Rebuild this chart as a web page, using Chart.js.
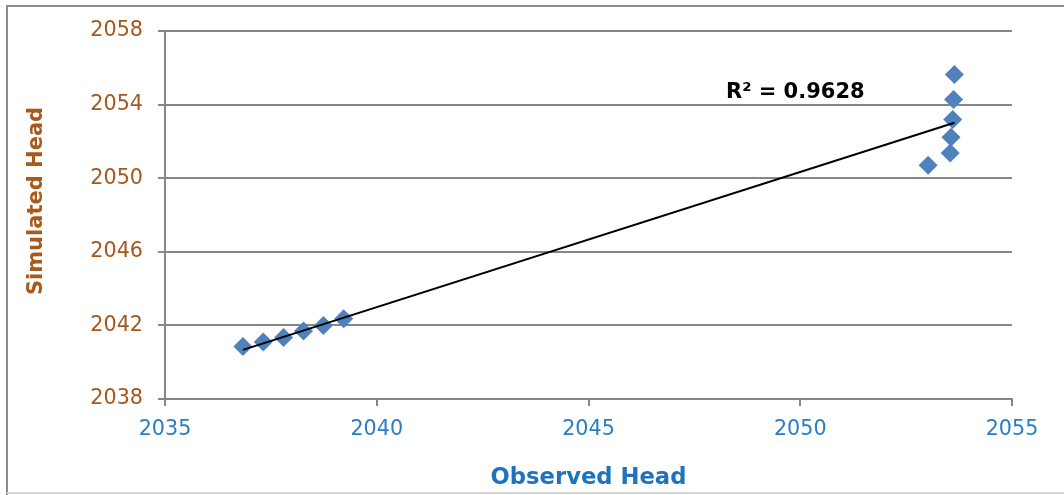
<!DOCTYPE html>
<html>
<head>
<meta charset="utf-8">
<script src="https://cdn.jsdelivr.net/npm/chart.js@4/dist/chart.umd.min.js"></script>
<style>
  html, body { margin: 0; padding: 0; background: #fff; }
  #wrap { position: relative; width: 1064px; height: 495px; }
</style>
</head>
<body>
<div id="wrap"><canvas id="c" width="1064" height="495"></canvas></div>
<script>
// Observed vs simulated heads at the monitoring wells
const observedHead  = [2036.84, 2037.32, 2037.80, 2038.27, 2038.74, 2039.22,
                       2053.02, 2053.54, 2053.56, 2053.60, 2053.62, 2053.64];
const simulatedHead = [2040.85, 2041.10, 2041.34, 2041.70, 2041.99, 2042.36,
                       2050.70, 2051.37, 2052.22, 2053.19, 2054.28, 2055.64];
const xTicks = [2035, 2040, 2045, 2050, 2055];
const yTicks = [2038, 2042, 2046, 2050, 2054, 2058];
const xTitle = 'Observed Head';
const yTitle = 'Simulated Head';
const rSquaredLabel = 'R² = 0.9628';

const points = observedHead.map((x, i) => ({ x, y: simulatedHead[i] }));

// Least-squares linear trendline spanning the observed range
const n = observedHead.length;
const mx = observedHead.reduce((a, b) => a + b, 0) / n;
const my = simulatedHead.reduce((a, b) => a + b, 0) / n;
let sxy = 0, sxx = 0;
for (let i = 0; i < n; i++) {
  sxy += (observedHead[i] - mx) * (simulatedHead[i] - my);
  sxx += (observedHead[i] - mx) ** 2;
}
const slope = sxy / sxx;
const intercept = my - slope * mx;
const xMin = Math.min(...observedHead), xMax = Math.max(...observedHead);
const trend = [
  { x: xMin, y: intercept + slope * xMin },
  { x: xMax, y: intercept + slope * xMax }
];

const BROWN = '#A3581E';
const BLUE = '#2A7DC4';
const GRID = '#878787';
const FONT = '"DejaVu Sans", sans-serif';

const frame = {
  id: 'frame',
  beforeDraw(chart) {
    const ctx = chart.ctx;
    ctx.save();
    ctx.fillStyle = '#fff';
    ctx.fillRect(0, 0, chart.width, chart.height);
    ctx.strokeStyle = '#8c8c8c';
    ctx.lineWidth = 2;
    ctx.beginPath();
    ctx.moveTo(1064, 6);
    ctx.lineTo(7, 6);
    ctx.lineTo(7, 495);
    ctx.stroke();
    ctx.strokeStyle = '#d4d4d4';
    ctx.beginPath();
    ctx.moveTo(7, 493);
    ctx.lineTo(1064, 493);
    ctx.stroke();
    ctx.restore();
  },
  afterDraw(chart) {
    const ctx = chart.ctx;
    ctx.save();
    // vertical axis title
    ctx.translate(37, 201);
    ctx.rotate(-Math.PI / 2);
    ctx.font = 'bold 21px ' + FONT;
    ctx.fillStyle = '#A8591C';
    ctx.textAlign = 'center';
    ctx.textBaseline = 'middle';
    ctx.fillText(yTitle, 0, 0);
    ctx.restore();
  },
  afterDatasetsDraw(chart) {
    const ctx = chart.ctx;
    ctx.save();
    ctx.font = 'bold 21px ' + FONT;
    ctx.fillStyle = '#000';
    ctx.textAlign = 'left';
    ctx.textBaseline = 'alphabetic';
    ctx.fillText(rSquaredLabel, 726, 98);
    ctx.restore();
  }
};

new Chart(document.getElementById('c'), {
  type: 'scatter',
  data: {
    datasets: [
      {
        label: yTitle,
        data: points,
        pointStyle: 'rectRot',
        pointRadius: 9.5,
        pointHoverRadius: 9.5,
        backgroundColor: '#4F81BD',
        borderColor: '#4F81BD',
        borderWidth: 0,
        order: 2
      },
      {
        label: 'Linear trend',
        type: 'line',
        data: trend,
        borderColor: '#000',
        borderWidth: 2,
        pointRadius: 0,
        fill: false,
        order: 1
      }
    ]
  },
  options: {
    responsive: false,
    animation: false,
    devicePixelRatio: 1,
    layout: { padding: { left: 14, right: 52, top: 31, bottom: 3 } },
    plugins: {
      legend: { display: false },
      tooltip: { enabled: false }
    },
    scales: {
      x: {
        type: 'linear',
        min: 2035, max: 2055,
        afterBuildTicks(scale) { scale.ticks = xTicks.map(v => ({ value: v })); },
        afterFit(scale) { scale.height = 93; },
        grid: {
          display: true,
          drawOnChartArea: false,
          drawTicks: true,
          tickLength: 7,
          color: GRID,
          lineWidth: 2
        },
        border: { display: true, color: GRID, width: 2 },
        ticks: {
          color: BLUE,
          font: { family: FONT, size: 20.7 },
          padding: 11,
          maxRotation: 0,
          callback: v => String(v)
        },
        title: {
          display: true,
          text: xTitle,
          color: '#1F72BE',
          font: { family: FONT, size: 22.7, weight: 'bold' },
          padding: { top: 0, bottom: 0 }
        }
      },
      y: {
        type: 'linear',
        min: 2038, max: 2058,
        afterBuildTicks(scale) { scale.ticks = yTicks.map(v => ({ value: v })); },
        afterFit(scale) { scale.width = 151; },
        grid: {
          display: true,
          drawTicks: true,
          tickLength: 7,
          color: GRID,
          lineWidth: 2
        },
        border: { display: true, color: GRID, width: 2 },
        ticks: {
          color: BROWN,
          font: { family: FONT, size: 20.7 },
          padding: 15,
          callback: v => String(v)
        },
        title: { display: false }
      }
    }
  },
  plugins: [frame]
});
</script>
</body>
</html>
